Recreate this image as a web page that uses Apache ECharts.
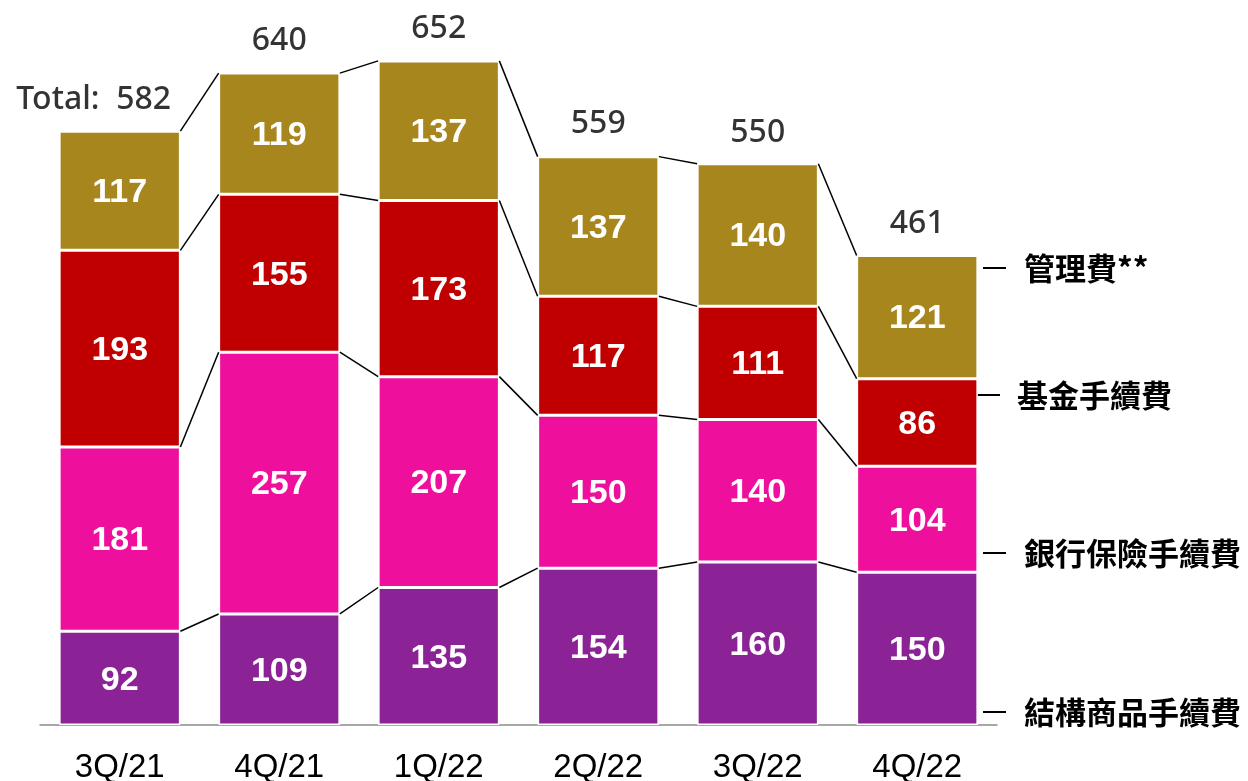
<!DOCTYPE html>
<html>
<head>
<meta charset="utf-8">
<script src="https://cdn.jsdelivr.net/npm/echarts@6/dist/echarts.min.js"></script>
<style>
  html, body { margin: 0; padding: 0; background: #fff; }
  #chart { width: 1248px; height: 781px; }
</style>
</head>
<body>
<div id="chart"></div>
<script>
const categories = ['3Q/21', '4Q/21', '1Q/22', '2Q/22', '3Q/22', '4Q/22']
const structuredFees = [92, 109, 135, 154, 160, 150]
const bancaFees = [181, 257, 207, 150, 140, 104]
const fundFees = [193, 155, 173, 117, 111, 86]
const mgmtFees = [117, 119, 137, 137, 140, 121]
const totals = [582, 640, 652, 559, 550, 461]
const seriesNames = ['結構商品手續費', '銀行保險手續費', '基金手續費', '管理費**']
const colors = ['#8b2397', '#ee0f9c', '#c00000', '#a8861e']

const stacks = [structuredFees, bancaFees, fundFees, mgmtFees]
// cumulative tops of each segment, per category
const cum = categories.map((c, i) => {
  let s = 0
  return stacks.map(arr => (s += arr[i]))
})

const barRatio = 0.76
const chart = echarts.init(document.getElementById('chart'))

const barSeries = stacks.map((arr, k) => ({
  name: seriesNames[k],
  type: 'bar',
  stack: 'fees',
  barWidth: barRatio * 100 + '%',
  data: arr,
  itemStyle: { color: colors[k], borderColor: '#fff', borderWidth: 1.5 },
  label: {
    show: true,
    position: 'inside',
    offset: [0, 2],
    color: '#fff',
    fontWeight: 'bold',
    fontSize: 34,
    fontFamily: 'Liberation Sans, Arial'
  }
}))

chart.setOption({
  animation: false,
  grid: { left: 40, right: 251, top: 12, bottom: 56, containLabel: false, outerBoundsMode: 'none' },
  xAxis: {
    type: 'category',
    data: categories,
    axisTick: { show: false },
    axisLine: { lineStyle: { color: '#8c8c8c', width: 1.5 } },
    axisLabel: { fontSize: 33, color: '#000', fontFamily: 'Liberation Sans, Arial', margin: 26 }
  },
  yAxis: { type: 'value', min: 0, max: 700, show: false, splitLine: { show: false } },
  series: [
    ...barSeries,
    {
      type: 'custom',
      z: 5,
      silent: true,
      data: categories.slice(0, -1).map((c, i) => [i, 0]),
      encode: { x: 0, y: 1 },
      renderItem: (params, api) => {
        const i = api.value(0)
        const half = api.size([1, 0])[0] * barRatio / 2
        const children = cum[i].map((v, k) => {
          const p1 = api.coord([i, v])
          const p2 = api.coord([i + 1, cum[i + 1][k]])
          return {
            type: 'line',
            shape: { x1: p1[0] + half, y1: p1[1], x2: p2[0] - half, y2: p2[1] },
            style: { stroke: '#000', lineWidth: 1.5 }
          }
        })
        return { type: 'group', children }
      }
    },
    {
      type: 'scatter',
      symbolSize: 0,
      z: 6,
      silent: true,
      data: totals.map((v, i) => i === 0
        ? { value: v, label: { formatter: 'Total:  ' + v, offset: [-26, 0] } }
        : v),
      label: {
        show: true,
        position: 'top',
        distance: 16,
        color: '#000',
        fontSize: 32,
        fontWeight: 500,
        fontFamily: 'Noto Sans, Open Sans'
      }
    }
  ],
  graphic: [
    { name: seriesNames[3], y: 268, x1: 983, x2: 1006, tx: 1024 },
    { name: seriesNames[2], y: 395, x1: 975, x2: 1000, tx: 1017 },
    { name: seriesNames[1], y: 553, x1: 983, x2: 1006, tx: 1024 },
    { name: seriesNames[0], y: 712, x1: 983, x2: 1006, tx: 1024 }
  ].flatMap(l => [
    {
      type: 'line',
      shape: { x1: l.x1, y1: l.y, x2: l.x2, y2: l.y },
      style: { stroke: '#000', lineWidth: 2 }
    },
    {
      type: 'text',
      x: l.tx,
      y: l.y,
      style: {
        text: l.name,
        fill: '#000',
        fontSize: 31,
        fontWeight: 'bold',
        fontFamily: 'Noto Sans CJK TC',
        verticalAlign: 'middle'
      }
    }
  ])
})
</script>
</body>
</html>
